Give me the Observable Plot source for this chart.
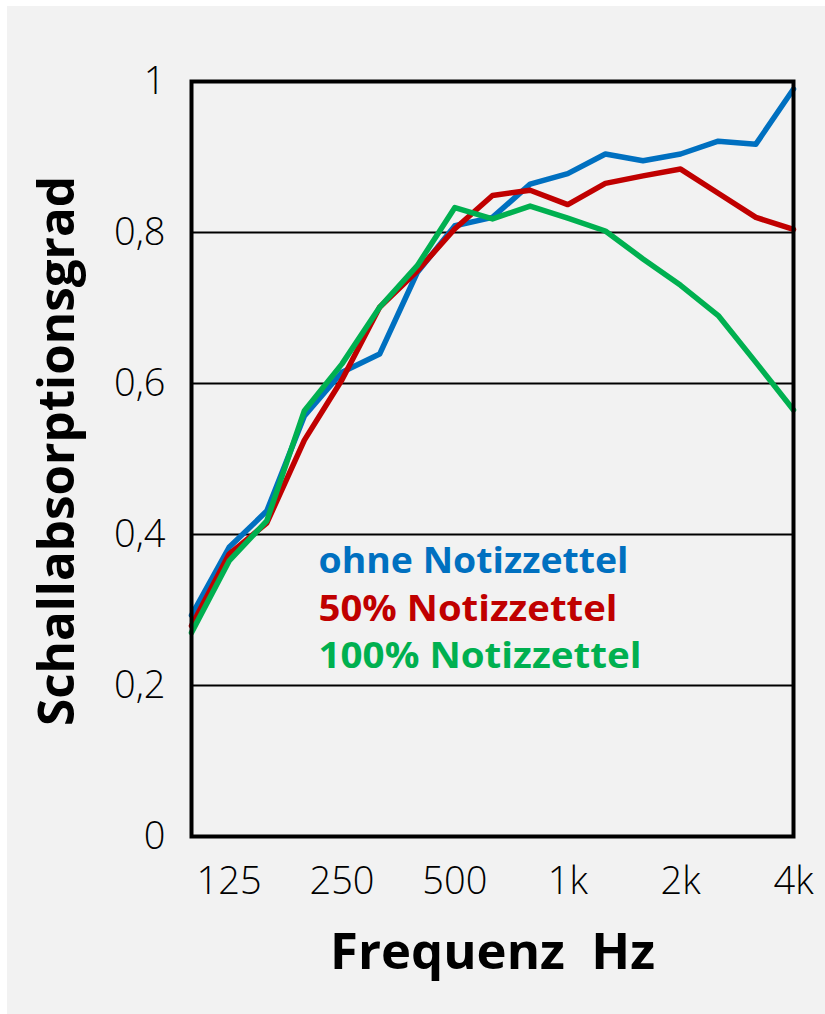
<!DOCTYPE html>
<html><head><meta charset="utf-8">
<script src="https://cdn.jsdelivr.net/npm/d3@7"></script>
<script src="https://cdn.jsdelivr.net/npm/@observablehq/plot@0.6"></script>
<style>
html,body{margin:0;padding:0;background:#fff;}
#panel{position:absolute;left:7px;top:6px;width:818px;height:1008px;background:#f2f2f2;}
#chart{position:absolute;left:0;top:0;}
svg text{white-space:pre;}
</style></head>
<body><div id="panel"></div><div id="chart"></div>
<script>
// Third-octave band centre frequencies (categories)
const freqs = ["100","125","160","200","250","315","400","500","630","800","1k","1.25k","1.6k","2k","2.5k","3.15k","4k"];
// Tick labels shown on the x axis
const xTickLabels = ["125","250","500","1k","2k","4k"];
// Y ticks
const yTicks = [0, 0.2, 0.4, 0.6, 0.8, 1];
const gridValues = [0.2, 0.4, 0.6, 0.8];
// Series
const seriesNames = ["ohne Notizzettel", "50% Notizzettel", "100% Notizzettel"];
const seriesColors = ["#0070C0", "#C00000", "#00B050"];
const ohne = [0.293,0.383,0.431,0.557,0.615,0.639,0.747,0.809,0.820,0.864,0.878,0.904,0.895,0.904,0.921,0.917,0.990];
const halb = [0.279,0.374,0.415,0.525,0.605,0.701,0.749,0.805,0.849,0.856,0.837,0.865,0.875,0.884,0.852,0.820,0.804];
const voll = [0.270,0.365,0.418,0.564,0.626,0.701,0.756,0.833,0.818,0.835,0.819,0.802,0.765,0.730,0.690,0.628,0.565];
const yTitle = "Schallabsorptionsgrad";
const xTitle = "Frequenz  Hz";

const seriesValues = [ohne, halb, voll];
const rows = [];
seriesValues.forEach((vals, k) => vals.forEach((v, i) => rows.push({i, f: freqs[i], v, series: seriesNames[k]})));
const tickIdx = xTickLabels.map(l => freqs.indexOf(l));

// text widths (condensed look of the original font)
const fitWidths = new Map([[yTitle, 550], [xTitle, 325], [seriesNames[0], 310], [seriesNames[1], 299], [seriesNames[2], 323]]);

const chart = Plot.plot({
  width: 825, height: 1014,
  marginLeft: 191, marginRight: 32, marginTop: 81, marginBottom: 178,
  style: {background: "transparent", fontFamily: "'Open Sans', 'Noto Sans', sans-serif", color: "#000", overflow: "visible"},
  x: {domain: [0, freqs.length - 1]},
  y: {domain: [0, 1]},
  color: {domain: seriesNames, range: seriesColors},
  marks: [
    Plot.ruleY(gridValues, {stroke: "#000", strokeWidth: 2}),
    Plot.line(rows, {x: "i", y: "v", stroke: "series", z: "series", strokeWidth: 5.5, strokeLinejoin: "round"}),
    Plot.frame({stroke: "#000", strokeWidth: 4}),
    Plot.axisY({ticks: yTicks, tickFormat: d => String(d).replace(".", ","), tickSize: 0, tickPadding: 26, fontSize: 38, fontWeight: 300, label: null}),
    Plot.axisX({ticks: tickIdx, tickFormat: i => freqs[i], tickSize: 0, tickPadding: 31, fontSize: 38, fontWeight: 300, label: null}),
    Plot.text([yTitle], {text: d => d, frameAnchor: "left", rotate: -90, dx: -118, dy: -8, textAnchor: "middle", lineAnchor: "bottom", fontSize: 50, fontWeight: "bold", fill: "#000"}),
    Plot.text([xTitle], {text: d => d, frameAnchor: "bottom", dy: 132, textAnchor: "middle", lineAnchor: "bottom", fontSize: 50, fontWeight: "bold", fill: "#000"}),
    ...seriesNames.map((s, k) => Plot.text([s], {text: d => d, frameAnchor: "top-left", dx: 127, dy: 491.7 + 47.3 * k, textAnchor: "start", lineAnchor: "bottom", fill: seriesColors[k], fontSize: 36, fontWeight: "bold"}))
  ]
});
d3.select(chart).selectAll("text").each(function() {
  const w = fitWidths.get(this.textContent);
  if (w) { this.setAttribute("textLength", w); this.setAttribute("lengthAdjust", "spacingAndGlyphs"); }
});
document.getElementById("chart").appendChild(chart);
</script>
</body></html>
